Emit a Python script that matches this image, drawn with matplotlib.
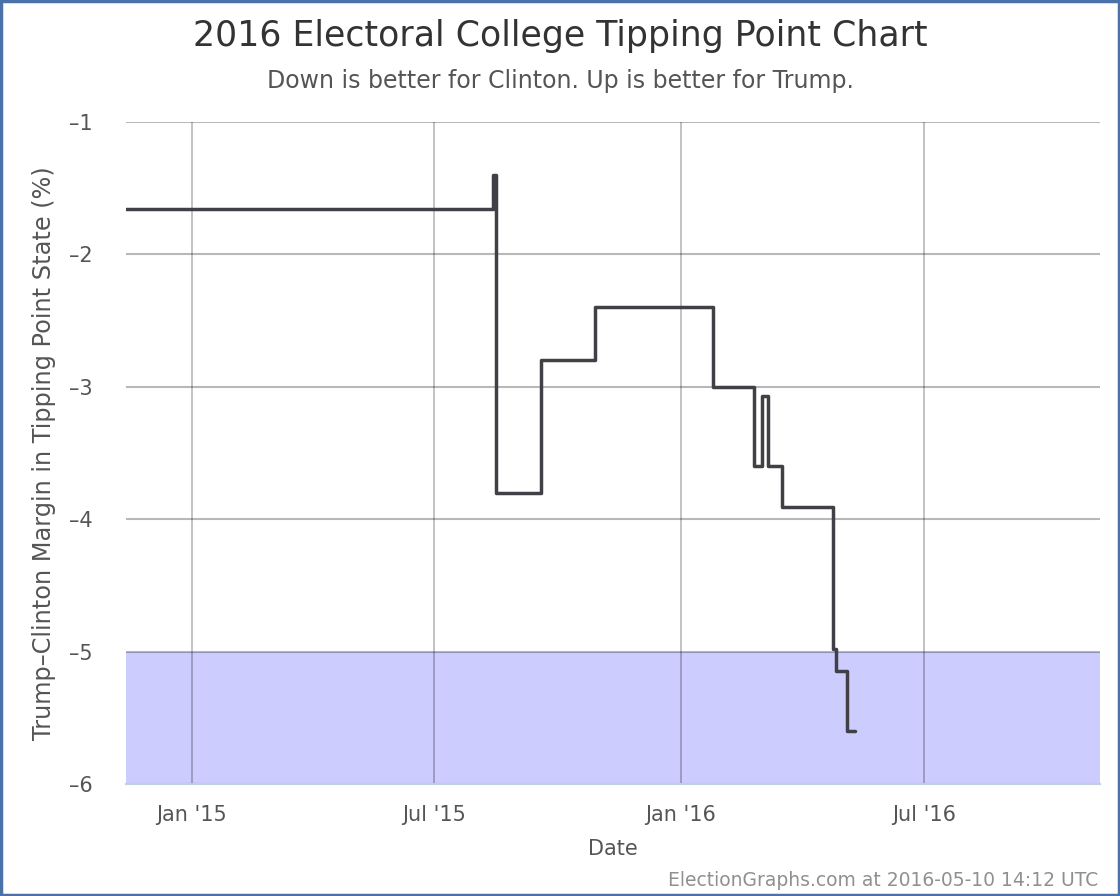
import matplotlib
matplotlib.use("Agg")
import matplotlib.pyplot as plt
import matplotlib.dates as mdates
from datetime import datetime
from matplotlib.patches import Rectangle

# ---- data ----
dates = ["2014-11-13", "2015-08-14", "2015-08-16", "2015-09-19", "2015-10-29",
         "2016-01-25", "2016-02-25", "2016-03-02", "2016-03-06", "2016-03-17",
         "2016-04-24", "2016-04-26", "2016-05-04", "2016-05-10"]
margins = [-1.66, -1.40, -3.80, -2.80, -2.40,
           -3.00, -3.60, -3.07, -3.60, -3.91,
           -4.98, -5.15, -5.60, -5.60]
tick_dates = ["2015-01-01", "2015-07-01", "2016-01-01", "2016-07-01"]
tick_labels = ["Jan '15", "Jul '15", "Jan '16", "Jul '16"]
y_ticks = [-1, -2, -3, -4, -5, -6]
x_start, x_end = "2014-11-13", "2016-11-09"
shade_lo, shade_hi = -6, -5

plt.rcParams['font.family'] = ['DejaVu Sans']

x = [datetime.fromisoformat(d) for d in dates]
xs = mdates.date2num(x)
x0 = mdates.date2num(datetime.fromisoformat(x_start))
x1 = mdates.date2num(datetime.fromisoformat(x_end))

fig = plt.figure(figsize=(11.2, 8.96), dpi=100)
ax = fig.add_axes([126/1120, 1 - 784/896, (1100 - 126)/1120, (784 - 122)/896])

ax.axhspan(shade_lo, shade_hi, color="#ccccff", zorder=0, lw=0)

# grid
for yv in y_ticks:
    ax.axhline(yv, color="black", alpha=0.28, lw=1.5, zorder=1)
for td in tick_dates:
    ax.axvline(mdates.date2num(datetime.fromisoformat(td)), color="black", alpha=0.28, lw=1.2, zorder=1)

ax.step(xs, margins, where="post", color="#404046", lw=2.5, zorder=3,
        solid_joinstyle="round", solid_capstyle="round")

ax.set_xlim(x0, x1)
ax.set_ylim(-6, -1)
ax.set_yticks(y_ticks)
ax.set_yticklabels([f"\u2013{abs(v)}" for v in y_ticks])
ax.set_xticks([mdates.date2num(datetime.fromisoformat(d)) for d in tick_dates])
ax.set_xticklabels(tick_labels)
ax.tick_params(axis="y", length=0, labelsize=15, labelcolor="#555555", pad=24)
ax.tick_params(axis="x", length=0, labelsize=15, labelcolor="#555555", pad=15)

for s in ["top", "right", "left"]:
    ax.spines[s].set_visible(False)
ax.spines["bottom"].set_color("#c0d0e0")
ax.spines["bottom"].set_linewidth(1.5)
ax.spines["bottom"].set_zorder(2)

ax.set_xlabel("Date", fontsize=15, color="#555555", labelpad=10)
ax.set_ylabel("Trump\u2013Clinton Margin in Tipping Point State (%)", fontsize=17.3,
              color="#555555", labelpad=9)

fig.text(0.5, 1 - 36/896, "2016 Electoral College Tipping Point Chart", ha="center",
         va="center", fontsize=25, color="#333333")
fig.text(0.5, 1 - 81/896, "Down is better for Clinton. Up is better for Trump.",
         ha="center", va="center", fontsize=17, color="#555555")
fig.text(1098/1120, 1 - 880/896, "ElectionGraphs.com at 2016-05-10 14:12 UTC",
         ha="right", va="center", fontsize=13.5, color="#909090")

fig.patches.append(Rectangle((0.001, 0.001), 0.998, 0.998, transform=fig.transFigure,
                             fill=False, edgecolor="#4a72a8", lw=2.5))

fig.savefig("out.png", dpi=100)
